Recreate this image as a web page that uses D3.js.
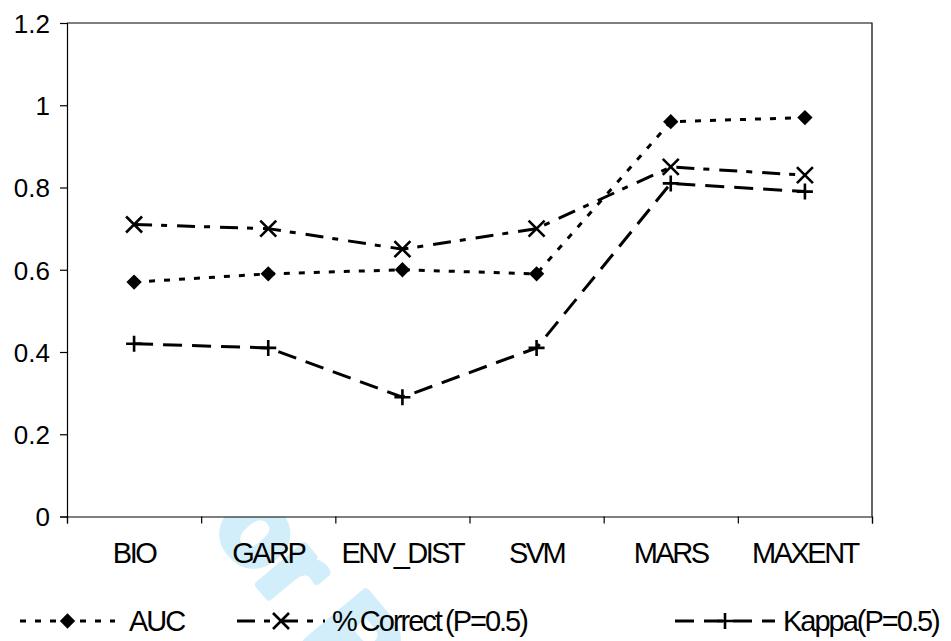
<!DOCTYPE html>
<html>
<head>
<meta charset="utf-8">
<script src="https://cdn.jsdelivr.net/npm/d3@7"></script>
<style>
  body { margin: 0; background: #fff; }
  svg text { font-family: "Liberation Sans", Arial, sans-serif; fill: #000; }
</style>
</head>
<body>
<div id="chart"></div>
<script>
// values
const categories = ["BIO", "GARP", "ENV_DIST", "SVM", "MARS", "MAXENT"];
const auc = [0.57, 0.59, 0.60, 0.59, 0.96, 0.97];
const correct = [0.71, 0.70, 0.65, 0.70, 0.85, 0.83];
const kappa = [0.42, 0.41, 0.29, 0.41, 0.81, 0.79];
const yTicks = [0, 0.2, 0.4, 0.6, 0.8, 1, 1.2];

const series = [
  { name: "AUC", values: auc, dash: "6,9", marker: "diamond", legend: [20, 115, 129] },
  { name: "% Correct (P=0.5)", values: correct, dash: "18,9,6,10", marker: "x", legend: [237, 325, 332] },
  { name: "Kappa(P=0.5)", values: kappa, dash: "19,10", marker: "plus", legend: [675, 775, 783] }
];

const width = 951, height = 641;
const margin = { top: 23, right: 79, bottom: 124.5, left: 67 };
const innerW = width - margin.left - margin.right;
const innerH = height - margin.top - margin.bottom;

const svg = d3.select("#chart").append("svg")
  .attr("width", width)
  .attr("height", height);

// faint watermark behind the plot area (clipped by the page edge, as in the original)
svg.append("text")
  .attr("transform", "translate(166,474) rotate(50)")
  .style("font-size", "112px")
  .style("font-weight", "bold")
  .style("fill", "#d2eefa")
  .style("stroke", "#d2eefa")
  .style("stroke-width", 8)
  .style("stroke-linejoin", "round")
  .text("For Peer");

const g = svg.append("g")
  .attr("transform", "translate(" + margin.left + "," + margin.top + ")");

g.append("rect")
  .attr("width", innerW)
  .attr("height", innerH)
  .attr("fill", "#fff");

const x = d3.scaleBand().domain(categories).range([0, innerW]).padding(0);
const y = d3.scaleLinear().domain([0, 1.2]).range([innerH, 0]);

// plot area border (top + right)
g.append("path")
  .attr("d", "M0,0H" + innerW + "V" + innerH)
  .attr("fill", "none")
  .attr("stroke", "#000")
  .attr("stroke-width", 1.2);

// y axis
const yAxis = g.append("g")
  .call(d3.axisLeft(y).tickValues(yTicks).tickSize(7).tickPadding(10)
    .tickFormat(d => d3.format("")(+d.toFixed(1))));
yAxis.selectAll("text").style("font-size", "26px").attr("dy", "0.36em");

// x axis: ticks at category boundaries, labels centred
const xEdges = d3.scaleLinear().domain([0, categories.length]).range([0, innerW]);
g.append("g")
  .attr("transform", "translate(0," + innerH + ")")
  .call(d3.axisBottom(xEdges).ticks(categories.length).tickSize(7).tickFormat(""));

const xAxis = g.append("g")
  .attr("transform", "translate(0," + innerH + ")")
  .call(d3.axisBottom(x).tickSize(0).tickPadding(26));
xAxis.select(".domain").remove();
xAxis.selectAll("text")
  .style("font-size", "29px")
  .style("letter-spacing", "-2.5px");

g.selectAll(".domain").attr("stroke-width", 1.2);
g.selectAll(".tick line").attr("stroke-width", 1.2);

function drawMarker(sel, type) {
  if (type === "diamond") {
    sel.append("path").attr("d", d3.symbol(d3.symbolDiamond2, 150)()).attr("fill", "#000");
  } else if (type === "x") {
    sel.append("path").attr("d", "M-8,-8L8,8M-8,8L8,-8")
      .attr("stroke", "#000").attr("stroke-width", 2.6).attr("fill", "none");
  } else {
    sel.append("path").attr("d", "M-8,0H8M0,-8V8")
      .attr("stroke", "#000").attr("stroke-width", 2.6).attr("fill", "none");
  }
}

const line = d3.line()
  .x((d, i) => x(categories[i]) + x.bandwidth() / 2)
  .y(d => y(d));

series.forEach(s => {
  g.append("path")
    .attr("d", line(s.values))
    .attr("fill", "none")
    .attr("stroke", "#000")
    .attr("stroke-width", 3)
    .attr("stroke-dasharray", s.dash);

  s.values.forEach((v, i) => {
    const m = g.append("g")
      .attr("transform", "translate(" + (x(categories[i]) + x.bandwidth() / 2) + "," + y(v) + ")");
    drawMarker(m, s.marker);
  });
});

// legend
const legendY = 621;
series.forEach(s => {
  const [x1, x2, tx] = s.legend;
  svg.append("line")
    .attr("x1", x1).attr("x2", x2)
    .attr("y1", legendY).attr("y2", legendY)
    .attr("stroke", "#000")
    .attr("stroke-width", 3)
    .attr("stroke-dasharray", s.dash);
  const m = svg.append("g")
    .attr("transform", "translate(" + (x1 + x2) / 2 + "," + legendY + ")");
  drawMarker(m, s.marker);
  svg.append("text")
    .attr("x", tx)
    .attr("y", legendY + 10)
    .style("font-size", "29px")
    .style("letter-spacing", "-2px")
    .style("word-spacing", "-2px")
    .text(s.name);
});
</script>
</body>
</html>
